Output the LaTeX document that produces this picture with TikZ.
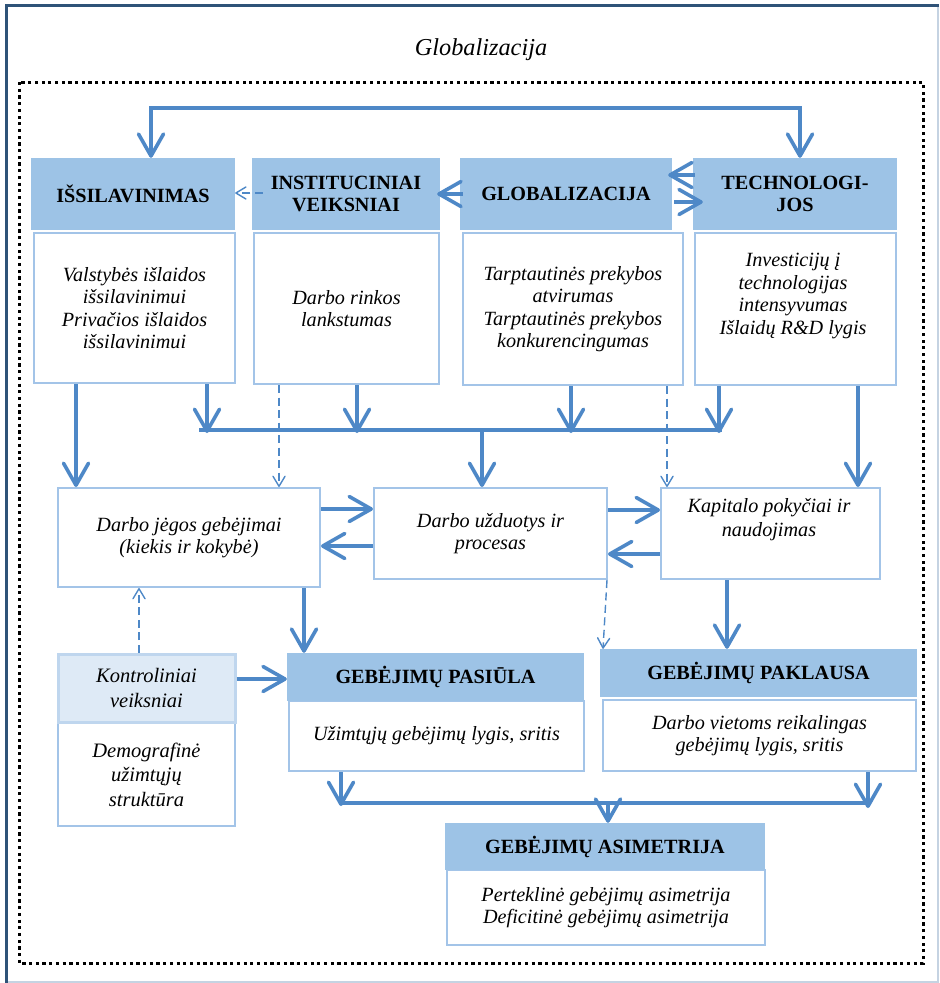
\documentclass[tikz,border=0pt]{standalone}
\usepackage{fontspec}
\setmainfont{Liberation Serif}
\usetikzlibrary{arrows.meta}

\definecolor{framedark}{HTML}{2F5378}
\definecolor{framelight}{HTML}{C5D3E2}
\definecolor{hdrfill}{HTML}{9DC3E6}
\definecolor{boxline}{HTML}{A3C4E8}
\definecolor{arrowblue}{HTML}{4E88C7}
\definecolor{ctrlfill}{HTML}{DEEAF6}
\definecolor{ctrlline}{HTML}{BFD6EE}

\newcommand\diaghdr{\fontsize{20.2}{21.5}\selectfont\bfseries}
\newcommand\diagbody{\fontsize{20.2}{22.5}\selectfont\itshape}
\newcommand\diagbig{\fontsize{20.5}{24.5}\selectfont\itshape}

\tikzset{
  bigbarb/.tip={Straight Barb[length=22pt,width=25pt,round]},
  smallbarb/.tip={Straight Barb[length=10pt,width=12pt,round]},
  hdr/.style={fill=hdrfill, inner sep=0pt, align=center, font=\diaghdr},
  txtbox/.style={draw=boxline, line width=2pt, fill=white, inner sep=0pt, align=center, font=\diagbody},
  ctrl/.style={draw=ctrlline, line width=3pt, fill=ctrlfill, inner sep=0pt, align=center, font=\diagbig},
  plain/.style={inner sep=0pt, align=center, font=\diagbody},
  bus/.style={draw=arrowblue, line width=3.6pt},
  flow/.style={bus, -bigbarb},
  hint/.style={draw=arrowblue, line width=1.4pt, dash pattern=on 8pt off 4.5pt, -smallbarb},
  dotframe/.style={draw=black, line width=3pt, dash pattern=on 3.2pt off 3.5pt},
}

\begin{document}
\begin{tikzpicture}[x=1pt,y=-1pt]
\useasboundingbox (0,0) rectangle (940,983);
\fill[white] (0,0) rectangle (940,983);

% outer frame
\draw[framelight, line width=1.5pt] (6,5.5) -- (938,5.5) -- (938,982) -- (6,982);
\draw[framedark, line width=3pt] (6.5,982.5) -- (6.5,5.5) -- (939,5.5);

% title and dotted frame
\node[font=\fontsize{24.3}{28}\selectfont\itshape] (title) at (481,50) {Globalizacija};
\draw[dotframe] (19,82) rectangle (923,963);

% top row: boxes and headers
\node[txtbox, minimum width=201, minimum height=150] (b1) at (134.5,308)
  {Valstybės išlaidos\\išsilavinimui\\Privačios išlaidos\\išsilavinimui};
\node[txtbox, minimum width=185, minimum height=151] (b2) at (346.5,308.5)
  {Darbo rinkos\\lankstumas};
\node[txtbox, minimum width=220, minimum height=152] (b3) at (573,309)
  {Tarptautinės prekybos\\atvirumas\\Tarptautinės prekybos\\konkurencingumas};
\node[txtbox, minimum width=201, minimum height=152] (b4) at (795.5,309) {};
\node[plain] (b4t) at (793,296)
  {Investicijų į\\technologijas\\intensyvumas\\Išlaidų R\&D lygis};

\node[hdr, minimum width=204, minimum height=72] (h1) at (133,194) {IŠSILAVINIMAS};
\node[hdr, minimum width=188, minimum height=72] (h2) at (346,194) {INSTITUCINIAI\\VEIKSNIAI};
\node[hdr, minimum width=212, minimum height=72] (h3) at (566,194) {GLOBALIZACIJA};
\node[hdr, minimum width=204, minimum height=72] (h4) at (795,194) {TECHNOLOGI-\\JOS};

% middle row
\node[txtbox, minimum width=262, minimum height=99] (m1) at (189,537.5)
  {Darbo jėgos gebėjimai\\(kiekis ir kokybė)};
\node[txtbox, minimum width=233, minimum height=91] (m2) at (490.5,533.5)
  {Darbo užduotys ir\\procesas};
\node[txtbox, minimum width=219, minimum height=91] (m3) at (770.5,533.5) {};
\node[plain, font=\fontsize{20.2}{24}\selectfont\itshape] (m3t) at (769,520)
  {Kapitalo pokyčiai ir\\naudojimas};

% control factors
\node[txtbox, font=\diagbig, minimum width=177, minimum height=103] (k2) at (146.5,774.5)
  {Demografinė\\užimtųjų\\struktūra};
\node[ctrl, minimum width=177, minimum height=68] (k1) at (146.5,688)
  {Kontroliniai\\veiksniai};

% supply and demand
\node[txtbox, minimum width=295, minimum height=70] (s2) at (436.5,736)
  {Užimtųjų gebėjimų lygis, sritis};
\node[hdr, minimum width=297, minimum height=48] (s1) at (435.5,677) {GEBĖJIMŲ PASIŪLA};
\node[txtbox, minimum width=313, minimum height=71] (d2) at (759.5,735.5)
  {Darbo vietoms reikalingas\\gebėjimų lygis, sritis};
\node[hdr, minimum width=317, minimum height=48] (d1) at (758.5,673) {GEBĖJIMŲ PAKLAUSA};

% mismatch
\node[txtbox, minimum width=318, minimum height=75] (a2) at (606,907.5)
  {Perteklinė gebėjimų asimetrija\\Deficitinė gebėjimų asimetrija};
\node[hdr, minimum width=320, minimum height=47] (a1) at (605,846.5) {GEBĖJIMŲ ASIMETRIJA};

% helper coordinates
\coordinate (tl) at (151,108);
\coordinate (tr) at (800,108);
\coordinate (busL) at (199,430);
\coordinate (busR) at (722,430);
\coordinate (busT) at (0,433);
\coordinate (busD) at (482,430);
\coordinate (yA) at (0,509);
\coordinate (yB) at (0,546);
\coordinate (yC) at (0,510);
\coordinate (yD) at (0,554);
\coordinate (yK) at (0,679);
\coordinate (xS) at (304,0);
\coordinate (xP) at (727,0);
\coordinate (xK) at (139,0);
\coordinate (xE) at (76,0);
\coordinate (xT) at (858,0);
\coordinate (xI) at (279,0);
\coordinate (xG) at (667,0);
\coordinate (xU) at (607,0);
\coordinate (xV) at (603,0);
\coordinate (f1) at (207,0);
\coordinate (f2) at (357,0);
\coordinate (f3) at (571,0);
\coordinate (f4) at (719,0);
\coordinate (lowL) at (341,803);
\coordinate (lowR) at (870,803);
\coordinate (lowS) at (341,806);
\coordinate (lowD) at (868,808);
\coordinate (lowM) at (608,803);

% loop between education and technology
\draw[bus, bigbarb-bigbarb] (tl |- h1.north) -- (tl) -- (tr) -- (tr |- h4.north);

% arrows between headers
\draw[flow] ([xshift=3pt]h3.west) -- ([xshift=-3pt]h2.east);
\draw[hint] ([xshift=11pt,yshift=1pt]h2.west) -- ([yshift=1pt]h1.east);
\draw[flow] ([xshift=2pt,yshift=19pt]h4.west) -- ([xshift=-4pt,yshift=19pt]h3.east);
\draw[flow] ([xshift=2pt,yshift=-8pt]h3.east) -- ([xshift=10pt,yshift=-8pt]h4.west);

% top boxes into the bus and down
\draw[bus] (busL) -- (busR);
\draw[flow] (b1.south -| f1) -- (f1 |- busT);
\draw[flow] (b2.south -| f2) -- (f2 |- busT);
\draw[flow] (b3.south -| f3) -- (f3 |- busT);
\draw[flow] (b4.south -| f4) -- (f4 |- busT);
\draw[flow] (busD) -- (busD |- m2.north);
\draw[flow] (b1.south -| xE) -- (m1.north -| xE);
\draw[flow] (b4.south -| xT) -- (m3.north -| xT);
\draw[hint] (b2.south -| xI) -- (m1.north -| xI);
\draw[hint] (b3.south -| xG) -- (m3.north -| xG);

% exchanges in the middle row
\draw[flow] (m1.east |- yA) -- (m2.west |- yA);
\draw[flow] (m2.west |- yB) -- (m1.east |- yB);
\draw[flow] (m2.east |- yC) -- (m3.west |- yC);
\draw[flow] (m3.west |- yD) -- (m2.east |- yD);

% down to supply and demand
\draw[flow] (m1.south -| xS) -- (s1.north -| xS);
\draw[flow] (m3.south -| xP) -- (d1.north -| xP);
\draw[hint] (m2.south -| xU) -- (d1.north -| xV);
\draw[hint] (k1.north -| xK) -- (m1.south -| xK);
\draw[flow] (k1.east |- yK) -- (s1.west |- yK);

% supply and demand into mismatch
\draw[bus] (lowL) -- (lowR);
\draw[flow] (s2.south -| lowS) -- (lowS);
\draw[flow] (d2.south -| lowD) -- (lowD);
\draw[flow] (lowM) -- (a1.north -| lowM);
\end{tikzpicture}
\end{document}
